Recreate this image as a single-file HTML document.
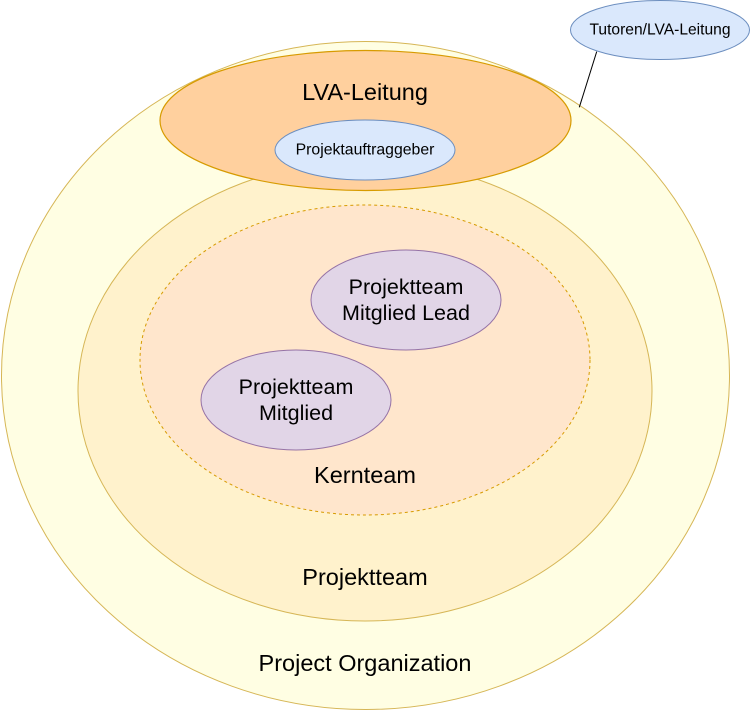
<!DOCTYPE html>
<html>
<head>
<meta charset="utf-8">
<style>
  html, body { margin: 0; padding: 0; background: #ffffff; }
  svg { display: block; }
  text { font-family: "Liberation Sans", Arial, sans-serif; fill: #000; }
</style>
</head>
<body>
<svg width="751" height="711" viewBox="0 0 751 711" xmlns="http://www.w3.org/2000/svg">
  <rect width="751" height="711" fill="#ffffff"/>
  <!-- Project Organization -->
  <ellipse cx="365.5" cy="375.5" rx="364" ry="334" fill="#fffee3" stroke="#d6b656" stroke-width="1"/>
  <!-- Projektteam -->
  <ellipse cx="365" cy="391" rx="287" ry="230" fill="#fff2cc" stroke="#d6b656" stroke-width="1"/>
  <!-- Kernteam -->
  <ellipse cx="365" cy="360" rx="225" ry="155" fill="#ffe6cc" stroke="#d79b00" stroke-width="1" stroke-dasharray="3 3"/>
  <!-- LVA-Leitung -->
  <ellipse cx="365.5" cy="120.5" rx="205.5" ry="70" fill="#ffd09e" stroke="#d79b00" stroke-width="1.2"/>
  <!-- Projektauftraggeber -->
  <ellipse cx="365" cy="150" rx="90" ry="30" fill="#dae8fc" stroke="#6c8ebf" stroke-width="1"/>
  <!-- Tutoren -->
  <ellipse cx="660" cy="30" rx="89.5" ry="29.5" fill="#dae8fc" stroke="#6c8ebf" stroke-width="1"/>
  <!-- Connector -->
  <line x1="596.7" y1="51.7" x2="579.3" y2="107.3" stroke="#000" stroke-width="1"/>
  <!-- Lead -->
  <ellipse cx="406" cy="300" rx="95" ry="50" fill="#e1d5e7" stroke="#9673a6" stroke-width="1"/>
  <!-- Mitglied -->
  <ellipse cx="296" cy="400" rx="95" ry="50" fill="#e1d5e7" stroke="#9673a6" stroke-width="1"/>

  <!-- Labels -->
  <text x="365" y="92" font-size="23.5" text-anchor="middle" dominant-baseline="central">LVA-Leitung</text>
  <text x="365" y="150" font-size="15.8" text-anchor="middle" dominant-baseline="central">Projektauftraggeber</text>
  <text x="660" y="30" font-size="15.6" text-anchor="middle" dominant-baseline="central">Tutoren/LVA-Leitung</text>
  <text x="406" y="287" font-size="21.5" text-anchor="middle" dominant-baseline="central">Projektteam</text>
  <text x="406" y="313" font-size="21.5" text-anchor="middle" dominant-baseline="central">Mitglied Lead</text>
  <text x="296" y="387" font-size="21.5" text-anchor="middle" dominant-baseline="central">Projektteam</text>
  <text x="296" y="413" font-size="21.5" text-anchor="middle" dominant-baseline="central">Mitglied</text>
  <text x="365" y="475" font-size="23.5" text-anchor="middle" dominant-baseline="central">Kernteam</text>
  <text x="365" y="577" font-size="23.5" text-anchor="middle" dominant-baseline="central">Projektteam</text>
  <text x="365" y="663" font-size="23.5" text-anchor="middle" dominant-baseline="central">Project Organization</text>
</svg>
</body>
</html>
